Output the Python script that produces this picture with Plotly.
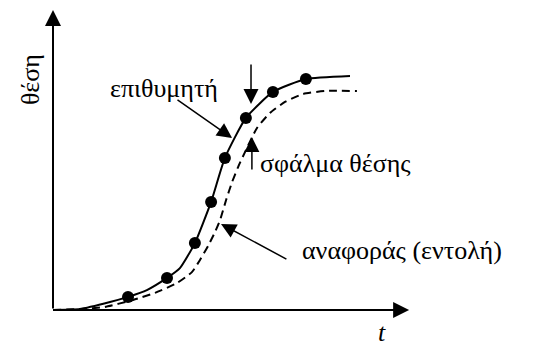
import plotly.graph_objects as go

# Desired (επιθυμητή) position trajectory, sampled points marked with dots
t_desired = [0.0, 0.9, 1.9, 2.5, 3.13, 3.8, 4.23, 4.73, 5.27, 5.73, 6.43, 7.33, 8.43, 9.9]
pos_desired = [0.0, 0.004, 0.034, 0.056, 0.085, 0.137, 0.179, 0.286, 0.462, 0.650, 0.821, 0.932, 0.987, 1.0]

# Sample instants shown as dots on the desired trajectory
t_samples = [2.5, 3.8, 4.73, 5.27, 5.73, 6.43, 7.33, 8.43]
pos_samples = [0.056, 0.137, 0.286, 0.462, 0.650, 0.821, 0.932, 0.987]

# Reference (command) trajectory
t_reference = [0.0, 0.9, 1.73, 2.67, 3.4, 4.13, 4.63, 4.9, 5.17, 5.4, 5.57, 5.77,
               5.97, 6.17, 6.4, 6.8, 7.23, 7.73, 8.33, 9.07, 10.13]
pos_reference = [0.0, 0.004, 0.013, 0.043, 0.073, 0.115, 0.162, 0.214, 0.274, 0.333,
                 0.385, 0.470, 0.547, 0.611, 0.675, 0.778, 0.842, 0.889, 0.923, 0.936, 0.936]

FONT = "Liberation Serif"

fig = go.Figure()

fig.add_trace(go.Scatter(
    x=t_reference, y=pos_reference, mode="lines",
    line=dict(color="black", width=2, dash="8px,5px", shape="spline", smoothing=0.5),
    hoverinfo="skip", showlegend=False,
))
fig.add_trace(go.Scatter(
    x=t_desired, y=pos_desired, mode="lines",
    line=dict(color="black", width=2, shape="spline", smoothing=0.5),
    hoverinfo="skip", showlegend=False,
))
fig.add_trace(go.Scatter(
    x=t_samples, y=pos_samples, mode="markers",
    marker=dict(color="black", size=12),
    hoverinfo="skip", showlegend=False,
))


def arrow(x0, y0, x1, y1, width=1.5, size=2.0):
    fig.add_annotation(
        x=x1, y=y1, ax=x0, ay=y0, xref="x", yref="y", axref="x", ayref="y",
        text="", showarrow=True, arrowhead=2, arrowsize=size, arrowwidth=width,
        arrowcolor="black", standoff=0, startstandoff=0,
    )


# Axes with arrow heads
arrow(0, 0, 0, 1.282, width=2, size=1.6)
arrow(0, 0, 11.87, 0, width=2, size=1.6)

# Pointers to the curves and the position error
arrow(4.1, 0.902, 5.97, 0.735)
arrow(6.6, 1.056, 6.6, 0.880)
arrow(6.63, 0.594, 6.63, 0.739)
arrow(7.83, 0.214, 5.6, 0.368)

text_font = dict(family=FONT, size=26, color="black")

fig.add_annotation(x=-0.73, y=0.983, xref="x", yref="y", text="θέση",
                   showarrow=False, textangle=-90, font=text_font)
fig.add_annotation(x=10.97, y=-0.095, xref="x", yref="y", text="<i>t</i>",
                   showarrow=False, font=text_font)
fig.add_annotation(x=3.7, y=0.948, xref="x", yref="y", text="επιθυμητή",
                   showarrow=False, font=text_font)
fig.add_annotation(x=6.83, y=0.626, xref="x", yref="y", text="σφάλμα θέσης",
                   showarrow=False, xanchor="left", font=text_font)
fig.add_annotation(x=8.23, y=0.256, xref="x", yref="y", text="αναφοράς (εντολή)",
                   showarrow=False, xanchor="left", font=text_font)

fig.update_layout(
    width=558, height=349,
    margin=dict(l=0, r=0, t=0, b=0),
    paper_bgcolor="white", plot_bgcolor="white",
    xaxis=dict(range=[-1.7667, 16.833], visible=False, fixedrange=True),
    yaxis=dict(range=[-0.1667, 1.3248], visible=False, fixedrange=True),
)

fig.write_html("out.html")
